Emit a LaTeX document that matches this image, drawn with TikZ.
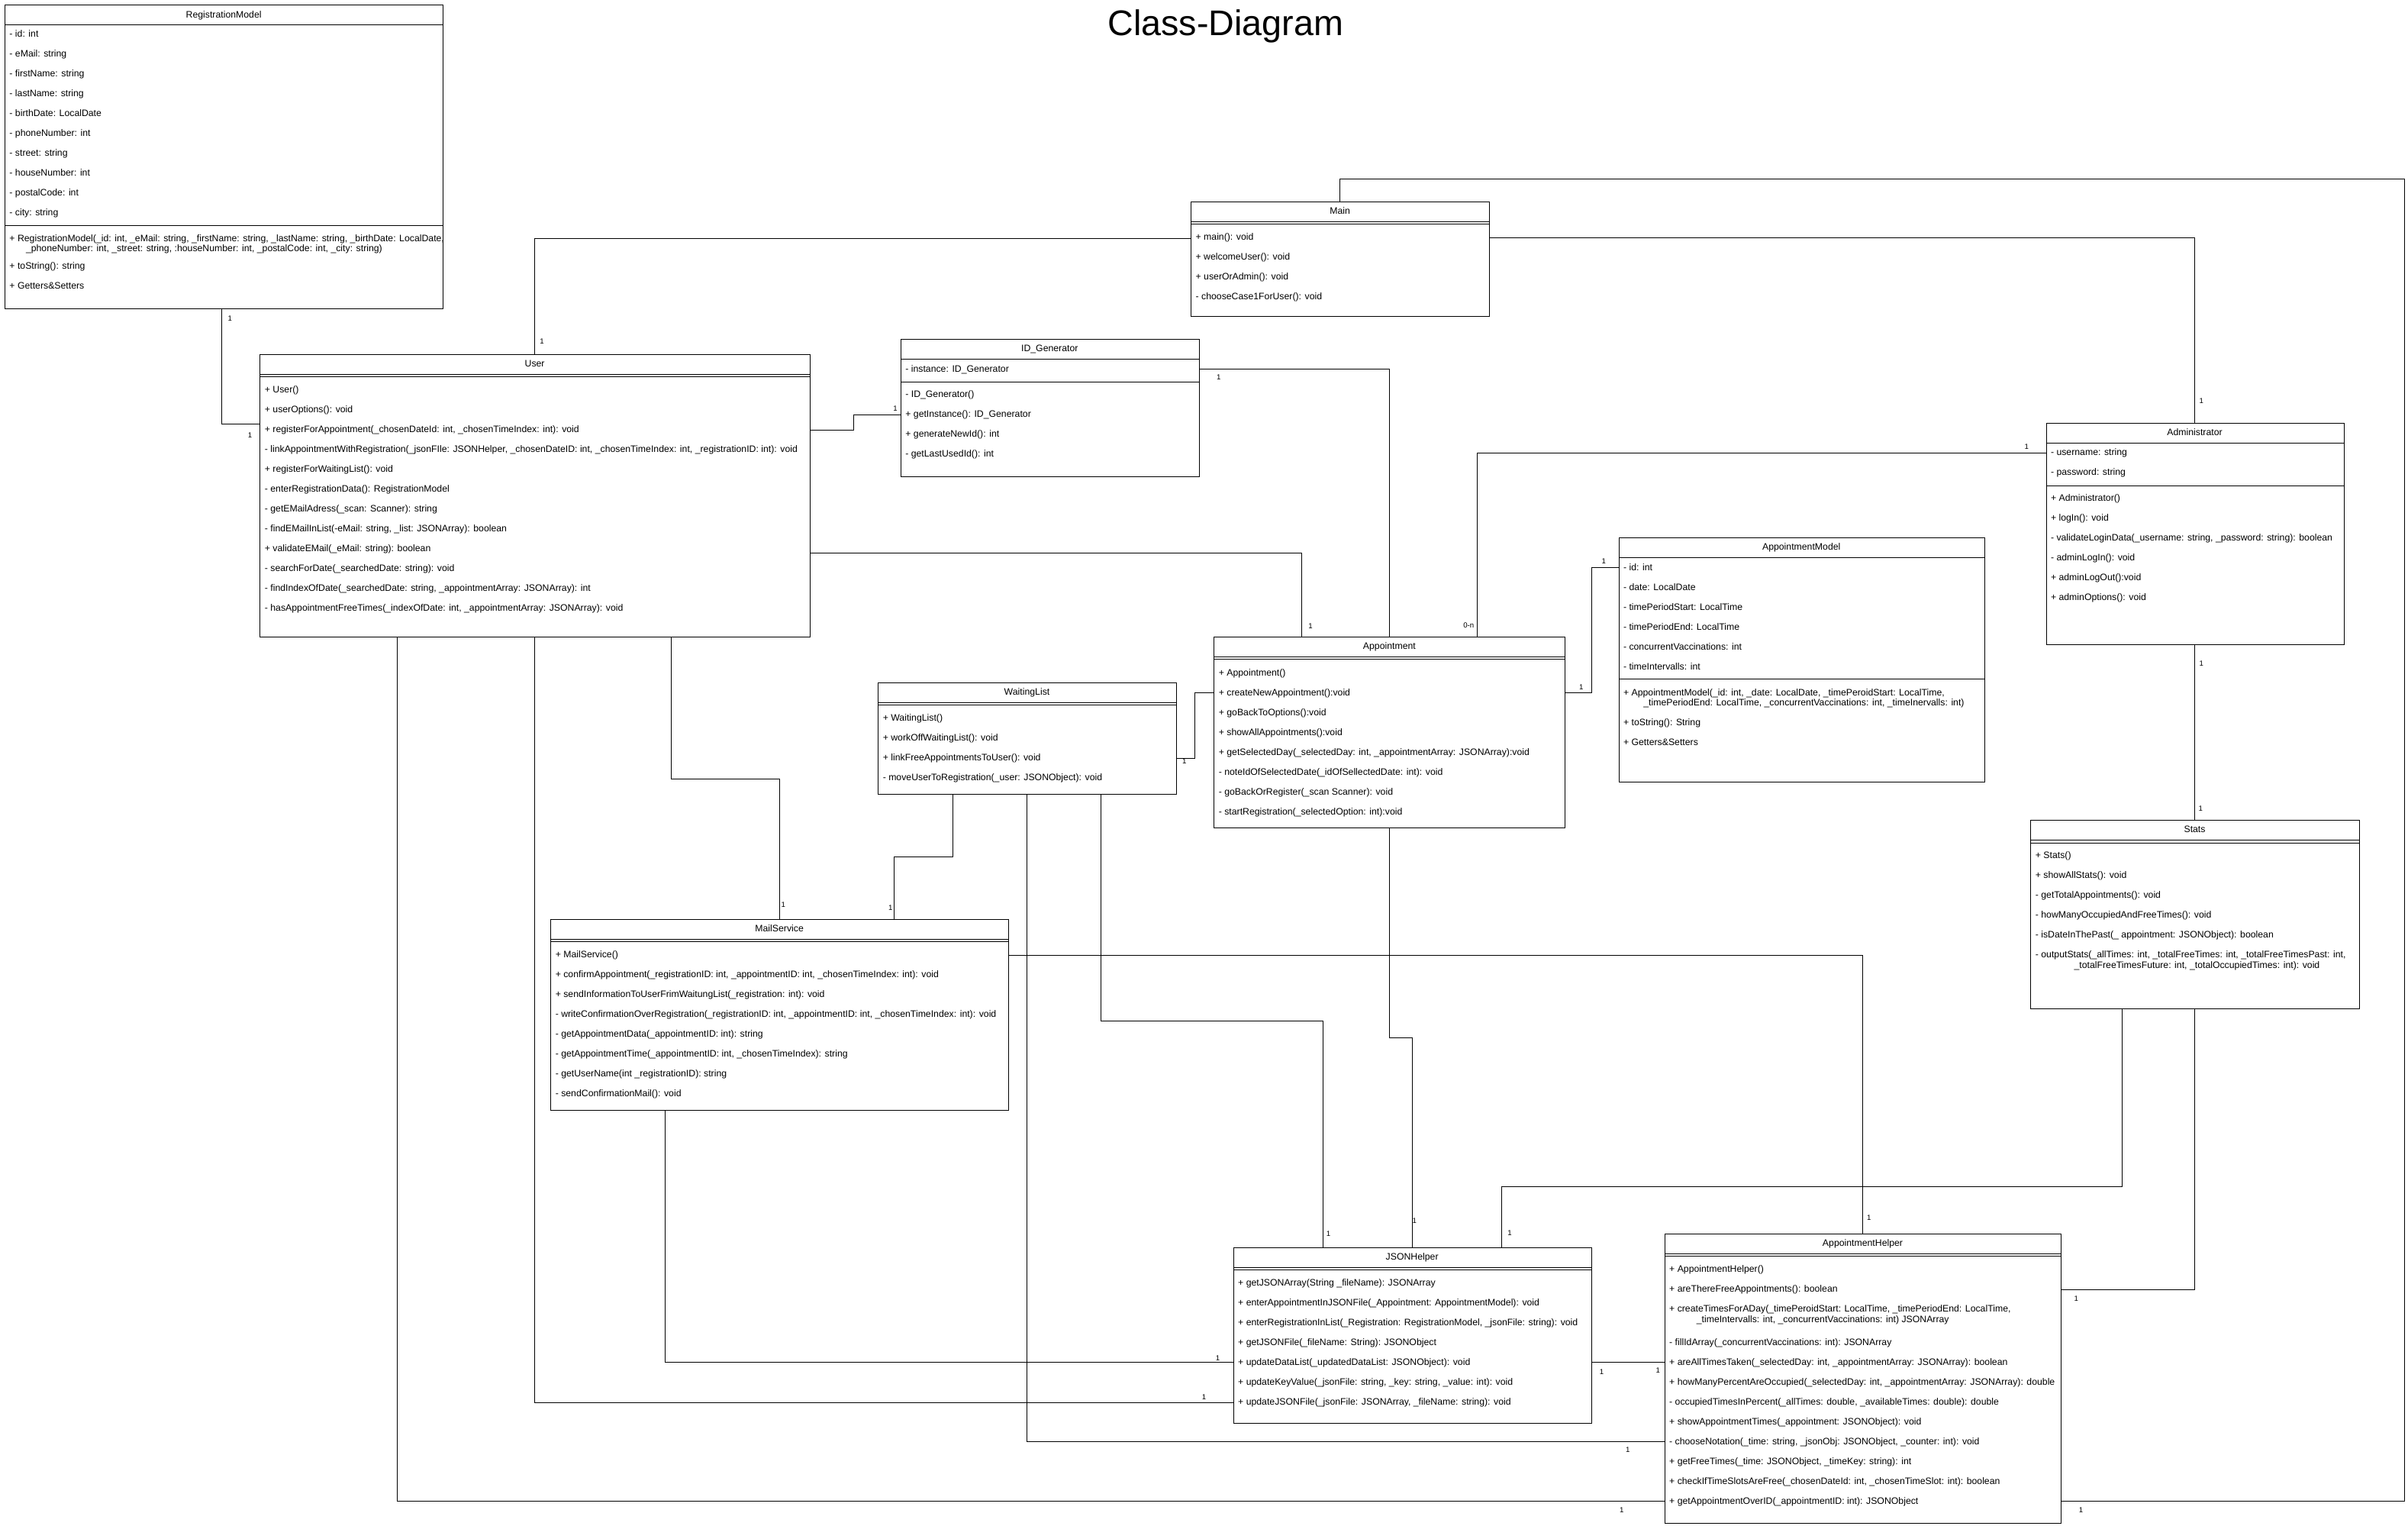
\documentclass[tikz,border=0pt]{standalone}
\usepackage{fontspec}
\setmainfont{Liberation Sans}
\usetikzlibrary{calc}
\newcommand{\fsrow}{\fontsize{6.1pt}{7pt}\selectfont}
\newcommand{\fslab}{\fontsize{4.8pt}{5.5pt}\selectfont}
\newcommand{\rowlist}[4]{%
  \foreach \rt [count=\i] in {#4} {\node[row] (#1\i) at (#2, {#3+12.92*(\i-1)}) {\rt};}}
\begin{document}
\begin{tikzpicture}[x=1pt,y=-1pt,
  box/.style={draw, line width=0.5pt, inner sep=0pt, anchor=north west, fill=white},
  row/.style={anchor=west, inner sep=0pt, font=\fsrow, text height=4.4pt, text depth=1.2pt},
  ttl/.style={anchor=center, inner sep=0pt, font=\fsrow, text height=4.4pt, text depth=1.2pt},
  mult/.style={inner sep=0pt, font=\fslab, anchor=center},
  conn/.style={line width=0.5pt},
  sepline/.style={line width=0.5pt}]

\useasboundingbox (0,0) rectangle (1568,993);
\fill[white] (0,0) rectangle (1568,993);

\node[font=\fontsize{23.2pt}{26pt}\selectfont, inner sep=0pt, anchor=base] (title) at (798,23.2) {Class-Diagram};

% ---------------- RegistrationModel
\node[box, minimum width=285.4pt, minimum height=198pt] (reg) at (3,3) {};
\draw[sepline] (reg.west |- 0,16.2) -- (reg.east |- 0,16.2);
\draw[sepline] (reg.west |- 0,147) -- (reg.east |- 0,147);
\node[ttl] (regt) at (145.7,10.1) {RegistrationModel};
\rowlist{rega}{6}{22.5}{{- id: int},{- eMail: string},{- firstName: string},{- lastName: string},{- birthDate: LocalDate},{- phoneNumber: int},{- street: string},{- houseNumber: int},{- postalCode: int},{- city: string}}
\node[row] (regm1) at (6,155.8) {+ RegistrationModel(\_id: int, \_eMail: string, \_firstName: string, \_lastName: string, \_birthDate: LocalDate,};
\node[row] (regm1b) at (16.7,162.4) {\_phoneNumber: int, \_street: string, :houseNumber: int, \_postalCode: int, \_city: string)};
\node[row] (regm2) at (6,173.7) {+ toString(): string};
\node[row] (regm3) at (6,186.6) {+ Getters\&Setters};

% ---------------- Main
\node[box, minimum width=194.2pt, minimum height=74.4pt] (main) at (775.4,131.4) {};
\draw[sepline] (main.west |- 0,144.5) -- (main.east |- 0,144.5);
\draw[sepline] (main.west |- 0,146.1) -- (main.east |- 0,146.1);
\node[ttl] (maint) at (872.5,138) {Main};
\rowlist{mainm}{778.4}{154.9}{{+ main(): void},{+ welcomeUser(): void},{+ userOrAdmin(): void},{- chooseCase1ForUser(): void}}

% ---------------- User
\node[box, minimum width=357.9pt, minimum height=183.9pt] (user) at (169.2,230.8) {};
\draw[sepline] (user.west |- 0,243.7) -- (user.east |- 0,243.7);
\draw[sepline] (user.west |- 0,245.4) -- (user.east |- 0,245.4);
\node[ttl] (usert) at (348.2,237.2) {User};
\rowlist{userm}{172.2}{254.3}{{+ User()},{+ userOptions(): void},{+ registerForAppointment(\_chosenDateId: int, \_chosenTimeIndex: int): void},{- linkAppointmentWithRegistration(\_jsonFIle: JSONHelper, \_chosenDateID: int, \_chosenTimeIndex: int, \_registrationID: int): void},{+ registerForWaitingList(): void},{- enterRegistrationData(): RegistrationModel},{- getEMailAdress(\_scan: Scanner): string},{- findEMailInList(-eMail: string, \_list: JSONArray): boolean},{+ validateEMail(\_eMail: string): boolean},{- searchForDate(\_searchedDate: string): void},{- findIndexOfDate(\_searchedDate: string, \_appointmentArray: JSONArray): int},{- hasAppointmentFreeTimes(\_indexOfDate: int, \_appointmentArray: JSONArray): void}}

% ---------------- ID_Generator
\node[box, minimum width=194.2pt, minimum height=89.5pt] (idg) at (586.4,220.8) {};
\draw[sepline] (idg.west |- 0,233.6) -- (idg.east |- 0,233.6);
\draw[sepline] (idg.west |- 0,248.7) -- (idg.east |- 0,248.7);
\node[ttl] (idgt) at (683.5,227.5) {ID\_Generator};
\node[row] (idga1) at (589.4,240.6) {- instance: ID\_Generator};
\rowlist{idgm}{589.4}{257.3}{{- ID\_Generator()},{+ getInstance(): ID\_Generator},{+ generateNewId(): int},{- getLastUsedId(): int}}

% ---------------- Administrator
\node[box, minimum width=193.8pt, minimum height=144.1pt] (admin) at (1332.2,275.3) {};
\draw[sepline] (admin.west |- 0,288.3) -- (admin.east |- 0,288.3);
\draw[sepline] (admin.west |- 0,316.4) -- (admin.east |- 0,316.4);
\node[ttl] (admint) at (1429.1,281.9) {Administrator};
\rowlist{admina}{1335.2}{294.9}{{- username: string},{- password: string}}
\rowlist{adminm}{1335.2}{324.8}{{+ Administrator()},{+ logIn(): void},{- validateLoginData(\_username: string, \_password: string): boolean},{- adminLogIn(): void},{+ adminLogOut():void},{+ adminOptions(): void}}

% ---------------- AppointmentModel
\node[box, minimum width=238.3pt, minimum height=158.8pt] (am) at (1053.9,350) {};
\draw[sepline] (am.west |- 0,363.1) -- (am.east |- 0,363.1);
\draw[sepline] (am.west |- 0,442.3) -- (am.east |- 0,442.3);
\node[ttl] (amt) at (1173,356.7) {AppointmentModel};
\rowlist{ama}{1056.9}{369.9}{{- id: int},{- date: LocalDate},{- timePeriodStart: LocalTime},{- timePeriodEnd: LocalTime},{- concurrentVaccinations: int},{- timeIntervalls: int}}
\node[row] (amm1) at (1056.9,451.2) {+ AppointmentModel(\_id: int, \_date: LocalDate, \_timePeroidStart: LocalTime,};
\node[row] (amm1b) at (1070,458) {\_timePeriodEnd: LocalTime, \_concurrentVaccinations: int, \_timeInervalls: int)};
\node[row] (amm2) at (1056.9,470.9) {+ toString(): String};
\node[row] (amm3) at (1056.9,483.7) {+ Getters\&Setters};

% ---------------- Appointment
\node[box, minimum width=228.6pt, minimum height=124.1pt] (appt) at (790.4,414.7) {};
\draw[sepline] (appt.west |- 0,427.6) -- (appt.east |- 0,427.6);
\draw[sepline] (appt.west |- 0,429.3) -- (appt.east |- 0,429.3);
\node[ttl] (apptt) at (904.7,421.2) {Appointment};
\rowlist{apptm}{793.4}{438.4}{{+ Appointment()},{+ createNewAppointment():void},{+ goBackToOptions():void},{+ showAllAppointments():void},{+ getSelectedDay(\_selectedDay: int, \_appointmentArray: JSONArray):void},{- noteIdOfSelectedDate(\_idOfSellectedDate: int): void},{- goBackOrRegister(\_scan Scanner): void},{- startRegistration(\_selectedOption: int):void}}

% ---------------- WaitingList
\node[box, minimum width=194pt, minimum height=72.5pt] (wl) at (571.7,444.5) {};
\draw[sepline] (wl.west |- 0,457.4) -- (wl.east |- 0,457.4);
\draw[sepline] (wl.west |- 0,459.1) -- (wl.east |- 0,459.1);
\node[ttl] (wlt) at (668.7,451.1) {WaitingList};
\rowlist{wlm}{574.7}{468}{{+ WaitingList()},{+ workOffWaitingList(): void},{+ linkFreeAppointmentsToUser(): void},{- moveUserToRegistration(\_user: JSONObject): void}}

% ---------------- Stats
\node[box, minimum width=213.8pt, minimum height=122.5pt] (stats) at (1322.2,534) {};
\draw[sepline] (stats.west |- 0,546.7) -- (stats.east |- 0,546.7);
\draw[sepline] (stats.west |- 0,548.7) -- (stats.east |- 0,548.7);
\node[ttl] (statst) at (1429.1,540.6) {Stats};
\rowlist{statsm}{1325.2}{557.3}{{+ Stats()},{+ showAllStats(): void},{- getTotalAppointments(): void},{- howManyOccupiedAndFreeTimes(): void},{- isDateInThePast(\_ appointment: JSONObject): boolean},{- outputStats(\_allTimes: int, \_totalFreeTimes: int, \_totalFreeTimesPast: int,}}
\node[row] (statsm6b) at (1350.4,628.8) {\_totalFreeTimesFuture: int, \_totalOccupiedTimes: int): void};

% ---------------- MailService
\node[box, minimum width=298.1pt, minimum height=124.3pt] (mail) at (358.5,598.4) {};
\draw[sepline] (mail.west |- 0,611.7) -- (mail.east |- 0,611.7);
\draw[sepline] (mail.west |- 0,613.2) -- (mail.east |- 0,613.2);
\node[ttl] (mailt) at (507.5,605.2) {MailService};
\rowlist{mailm}{361.5}{622.1}{{+ MailService()},{+ confirmAppointment(\_registrationID: int, \_appointmentID: int, \_chosenTimeIndex: int): void},{+ sendInformationToUserFrimWaitungList(\_registration: int): void},{- writeConfirmationOverRegistration(\_registrationID: int, \_appointmentID: int, \_chosenTimeIndex: int): void},{- getAppointmentData(\_appointmentID: int): string},{- getAppointmentTime(\_appointmentID: int, \_chosenTimeIndex): string},{- getUserName(int \_registrationID): string},{- sendConfirmationMail(): void}}

% ---------------- JSONHelper
\node[box, minimum width=233pt, minimum height=114.1pt] (json) at (803,812.3) {};
\draw[sepline] (json.west |- 0,825) -- (json.east |- 0,825);
\draw[sepline] (json.west |- 0,826.7) -- (json.east |- 0,826.7);
\node[ttl] (jsont) at (919.5,818.9) {JSONHelper};
\rowlist{jsonm}{806}{835.7}{{+ getJSONArray(String \_fileName): JSONArray},{+ enterAppointmentInJSONFile(\_Appointment: AppointmentModel): void},{+ enterRegistrationInList(\_Registration: RegistrationModel, \_jsonFile: string): void},{+ getJSONFile(\_fileName: String): JSONObject},{+ updateDataList(\_updatedDataList: JSONObject): void},{+ updateKeyValue(\_jsonFile: string, \_key: string, \_value: int): void},{+ updateJSONFile(\_jsonFile: JSONArray, \_fileName: string): void}}

% ---------------- AppointmentHelper
\node[box, minimum width=258.2pt, minimum height=188.6pt] (ah) at (1083.8,803) {};
\draw[sepline] (ah.west |- 0,816.3) -- (ah.east |- 0,816.3);
\draw[sepline] (ah.west |- 0,817.8) -- (ah.east |- 0,817.8);
\node[ttl] (aht) at (1212.9,809.8) {AppointmentHelper};
\node[row] (ahm1) at (1086.8,826.7) {+ AppointmentHelper()};
\node[row] (ahm2) at (1086.8,839.6) {+ areThereFreeAppointments(): boolean};
\node[row] (ahm3) at (1086.8,852.6) {+ createTimesForADay(\_timePeroidStart: LocalTime, \_timePeriodEnd: LocalTime,};
\node[row] (ahm3b) at (1104.5,859.5) {\_timeIntervalls: int, \_concurrentVaccinations: int) JSONArray};
\rowlist{ahn}{1086.8}{874.4}{{- fillIdArray(\_concurrentVaccinations: int): JSONArray},{+ areAllTimesTaken(\_selectedDay: int, \_appointmentArray: JSONArray): boolean},{+ howManyPercentAreOccupied(\_selectedDay: int, \_appointmentArray: JSONArray): double},{- occupiedTimesInPercent(\_allTimes: double, \_availableTimes: double): double},{+ showAppointmentTimes(\_appointment: JSONObject): void},{- chooseNotation(\_time: string, \_jsonObj: JSONObject, \_counter: int): void},{+ getFreeTimes(\_time: JSONObject, \_timeKey: string): int},{+ checkIfTimeSlotsAreFree(\_chosenDateId: int, \_chosenTimeSlot: int): boolean},{+ getAppointmentOverID(\_appointmentID: int): JSONObject}}

% ================= connectors
\draw[conn] (reg.south -| 144.5,0) |- (user.west |- 0,276.2);
\draw[conn] (main.west |- 0,155.5) -| (user.north -| 348.2,0);
\draw[conn] (main.east |- 0,155) -| (admin.north -| 1429.3,0);
\draw[conn] (main.north -| 872.4,0) |- (1565.6,116.5) |- (ah.east |- 0,977.5);
\draw[conn] (user.east |- 0,280) -- (556,280) -- (556,270) -- (idg.west |- 0,270);
\draw[conn] (user.east |- 0,360) -| (appt.north -| 847.6,0);
\draw[conn] (idg.east |- 0,240.4) -| (appt.north -| 904.7,0);
\draw[conn] (admin.west |- 0,294.9) -| (appt.north -| 961.9,0);
\draw[conn] (appt.east |- 0,450.9) -- (1036.5,450.9) |- (am.west |- 0,369.4);
\draw[conn] (wl.east |- 0,493.7) -- (777.8,493.7) |- (appt.west |- 0,451.1);
\draw[conn] (admin.south -| 1429.3,0) -- (stats.north -| 1429.3,0);
\draw[conn] (user.south -| 437.3,0) |- (507.5,507) -- (mail.north -| 507.5,0);
\draw[conn] (wl.south -| 620.3,0) |- (582.2,557.8) -- (mail.north -| 582.2,0);
\draw[conn] (user.south -| 348.2,0) |- (json.west |- 0,913);
\draw[conn] (user.south -| 258.8,0) |- (ah.west |- 0,977.5);
\draw[conn] (wl.south -| 668.7,0) |- (ah.west |- 0,938.7);
\draw[conn] (wl.south -| 717,0) |- (861.3,664.7) -- (json.north -| 861.3,0);
\draw[conn] (appt.south -| 904.7,0) |- (919.6,675.4) -- (json.north -| 919.6,0);
\draw[conn] (stats.south -| 1382,0) |- (978,772.5) -- (json.north -| 978,0);
\draw[conn] (stats.south -| 1429.3,0) |- (ah.east |- 0,839.5);
\draw[conn] (mail.east |- 0,621.8) -| (ah.north -| 1212.8,0);
\draw[conn] (mail.south -| 433,0) |- (json.west |- 0,887);
\draw[conn] (json.east |- 0,887) -- (ah.west |- 0,887);

% ================= multiplicities
\node[mult] (l1) at (149.8,207.4) {1};
\node[mult] (l2) at (162.8,283.3) {1};
\node[mult] (l3) at (352.9,222) {1};
\node[mult] (l4) at (1433.5,261) {1};
\node[mult] (l5) at (1355,983) {1};
\node[mult] (l6) at (583,266) {1};
\node[mult] (l7) at (853.3,407.6) {1};
\node[mult] (l8) at (793.6,245.7) {1};
\node[mult] (l9) at (1319.6,290.8) {1};
\node[mult, anchor=east] (l10) at (960,407) {0-n};
\node[mult] (l11) at (1029.7,447.4) {1};
\node[mult] (l12) at (1044.3,365.3) {1};
\node[mult] (l13) at (771.2,495.4) {1};
\node[mult] (l14) at (1433.5,432) {1};
\node[mult] (l15) at (1433,526.6) {1};
\node[mult] (l16) at (510,589) {1};
\node[mult] (l17) at (579.9,591.1) {1};
\node[mult] (l18) at (784,909.5) {1};
\node[mult] (l19) at (1056,983) {1};
\node[mult] (l20) at (1060,944) {1};
\node[mult] (l21) at (865,803) {1};
\node[mult] (l22) at (921,795) {1};
\node[mult] (l23) at (983,802.5) {1};
\node[mult] (l24) at (1352,845.5) {1};
\node[mult] (l25) at (1217,792.6) {1};
\node[mult] (l26) at (793,884.3) {1};
\node[mult] (l27) at (1043,893) {1};
\node[mult] (l28) at (1079.6,892) {1};
\end{tikzpicture}
\end{document}
